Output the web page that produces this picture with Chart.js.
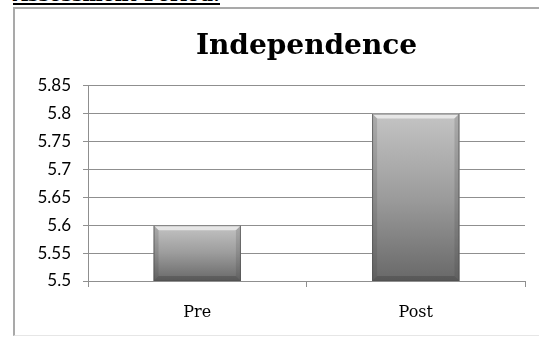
<!DOCTYPE html>
<html>
<head>
<meta charset="utf-8">
<script src="https://cdn.jsdelivr.net/npm/chart.js@4/dist/chart.umd.min.js"></script>
<style>
  html, body { margin: 0; padding: 0; width: 539px; height: 339px; overflow: hidden; background: #ffffff; }
  #heading { position: absolute; left: 13px; top: -14px; font: bold 19px "DejaVu Serif", serif; line-height: 17px; color: #000; border-bottom: 2px solid #000; white-space: nowrap; }
  #box { position: absolute; left: 13px; top: 7px; width: 600px; height: 329px; border-left: 2px solid #a9a9a9; border-top: 2px solid #a9a9a9; border-bottom: 1px solid #e6e6e6; box-sizing: border-box; }
  #wrap { position: absolute; left: 2px; top: 2px; width: 579px; height: 326px; }
</style>
</head>
<body>
<div id="heading">Assessment Period:</div>
<div id="box"><div id="wrap"><canvas id="c"></canvas></div></div>
<script>
const chartTitle = "Independence";
const categories = ["Pre", "Post"];
const values = [5.6, 5.8];
const yMin = 5.5, yMax = 5.85, yStep = 0.05;

function barGradient(ctx) {
  const chart = ctx.chart;
  const area = chart.chartArea;
  if (!area) return "#999";
  const ys = chart.scales.y;
  const top = ys.getPixelForValue(values[ctx.dataIndex]);
  const bottom = ys.getPixelForValue(yMin);
  const g = chart.ctx.createLinearGradient(0, top, 0, bottom);
  g.addColorStop(0, "#c4c4c4");
  g.addColorStop(0.5, "#9c9c9c");
  g.addColorStop(1, "#686868");
  return g;
}

const bevel = {
  id: "bevel",
  afterDatasetsDraw(chart) {
    const c = chart.ctx;
    const area = chart.chartArea;
    chart.getDatasetMeta(0).data.forEach(bar => {
      const l = bar.x - bar.width / 2, r = bar.x + bar.width / 2, t = bar.y;
      const b = Math.min(bar.base, area.bottom);
      const d = 5;
      c.save();
      c.fillStyle = "rgba(255,255,255,0.6)";
      c.beginPath(); c.moveTo(l, t); c.lineTo(r, t); c.lineTo(r - d, t + d); c.lineTo(l + d, t + d); c.closePath(); c.fill();
      c.fillStyle = "rgba(60,60,60,0.18)";
      c.beginPath(); c.moveTo(l, t); c.lineTo(l + d, t + d); c.lineTo(l + d, b - d); c.lineTo(l, b); c.closePath(); c.fill();
      c.beginPath(); c.moveTo(r, t); c.lineTo(r - d, t + d); c.lineTo(r - d, b - d); c.lineTo(r, b); c.closePath(); c.fill();
      c.fillStyle = "rgba(40,40,40,0.25)";
      c.beginPath(); c.moveTo(l, b); c.lineTo(r, b); c.lineTo(r - d, b - d); c.lineTo(l + d, b - d); c.closePath(); c.fill();
      c.strokeStyle = "rgba(80,80,80,0.7)"; c.lineWidth = 1;
      c.strokeRect(l + 0.5, t + 0.5, bar.width - 1, b - t - 1);
      c.restore();
    });
  }
};

new Chart(document.getElementById("c"), {
  type: "bar",
  data: {
    labels: categories,
    datasets: [{ data: values, backgroundColor: barGradient, borderWidth: 0, barPercentage: 0.4, categoryPercentage: 1.0 }]
  },
  plugins: [bevel],
  options: {
    responsive: true,
    maintainAspectRatio: false,
    animation: false,
    layout: { padding: { top: 19, right: 0, bottom: 0, left: 0 } },
    plugins: {
      legend: { display: false },
      tooltip: { enabled: false },
      title: { display: true, text: chartTitle, color: "#000", font: { family: "'DejaVu Serif', serif", size: 28, weight: "bold" }, padding: { top: 0, bottom: 22 } }
    },
    scales: {
      x: {
        grid: { display: true, drawOnChartArea: false, drawTicks: true, tickLength: 6, color: "#8f8f8f", offset: true },
        border: { display: true, color: "#8f8f8f" },
        ticks: { color: "#000", padding: 16, font: { family: "'DejaVu Serif', serif", size: 16 } },
        afterFit(s) { s.height = 56; }
      },
      y: {
        min: yMin, max: yMax,
        grid: { color: "#8f8f8f", tickLength: 5 },
        border: { display: true, color: "#8f8f8f" },
        ticks: { stepSize: yStep, color: "#000", padding: 12, font: { family: "Lato, sans-serif", size: 17 }, callback: v => String(Math.round(v * 100) / 100) },
        afterFit(s) { s.width = 71; }
      },
      spacer: {
        type: "linear", position: "right", display: true,
        grid: { display: false, drawTicks: false },
        border: { display: false },
        ticks: { display: false },
        afterFit(s) { s.width = 71; }
      }
    }
  }
});
</script>
</body>
</html>
